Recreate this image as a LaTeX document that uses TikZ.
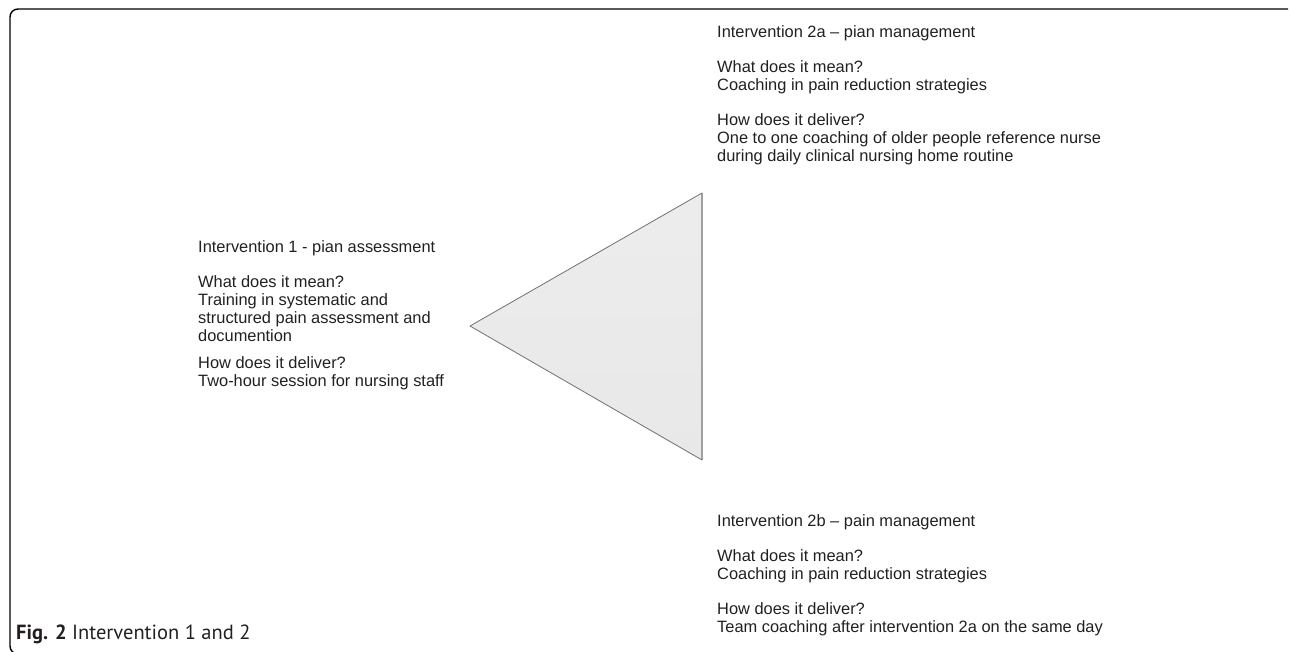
\documentclass[tikz,border=0pt]{standalone}
\usepackage{fontspec}
\setmainfont{Liberation Sans}
\newfontfamily\capfont{PT Sans}
\definecolor{trifill}{HTML}{E8E8E8}
\definecolor{triedge}{HTML}{707070}
\definecolor{trishade}{HTML}{A0A0A0}
\definecolor{txt}{HTML}{231F20}
\tikzset{
  tline/.style={anchor=base west, inner sep=0pt, text=txt, font=\fontsize{16.4}{18}\selectfont},
  capline/.style={anchor=base west, inner sep=0pt, text=txt, font=\capfont\fontsize{20.5}{22}\selectfont},
  frame/.style={draw=black, line width=1.4pt, rounded corners=8pt},
}
\begin{document}
\begin{tikzpicture}[x=1pt,y=-1pt]
\useasboundingbox (0,0) rectangle (1290,651);
% frame
\draw[frame] (1288,9) -- (10,9) -- (10,654) -- (40,654);
% triangle
\coordinate (L) at (470,326);
\coordinate (T) at (702,193);
\coordinate (B) at (702,460);
\shade[top color=trifill!80!white, bottom color=trifill] (L) -- (T) -- (B) -- cycle;
\draw[trishade, line width=2pt] (T) -- (B);
\draw[triedge, line width=0.8pt, line join=round] (B) -- (L) -- (T);
% left block
\node[tline] (l1) at (198,252) {Intervention 1 - pian assessment};
\node[tline] (l2) at (198,287) {What does it mean?};
\node[tline] (l3) at (198,305) {Training in systematic and};
\node[tline] (l4) at (198,323) {structured pain assessment and};
\node[tline] (l5) at (198,341) {documention};
\node[tline] (l6) at (198,368) {How does it deliver?};
\node[tline] (l7) at (198,386) {Two-hour session for nursing staff};
% top right block
\node[tline] (a1) at (717,37) {Intervention 2a -- pian management};
\node[tline] (a2) at (717,72) {What does it mean?};
\node[tline] (a3) at (717,90) {Coaching in pain reduction strategies};
\node[tline] (a4) at (717,125) {How does it deliver?};
\node[tline] (a5) at (717,143) {One to one coaching of older people reference nurse};
\node[tline] (a6) at (717,161) {during daily clinical nursing home routine};
% bottom right block
\node[tline] (b1) at (717,526) {Intervention 2b -- pain management};
\node[tline] (b2) at (717,561) {What does it mean?};
\node[tline] (b3) at (717,579) {Coaching in pain reduction strategies};
\node[tline] (b4) at (717,614) {How does it deliver?};
\node[tline] (b5) at (717,632) {Team coaching after intervention 2a on the same day};
% caption
\node[capline] (cap) at (16,639) {\textbf{Fig. 2} Intervention 1 and 2};
\end{tikzpicture}
\end{document}
